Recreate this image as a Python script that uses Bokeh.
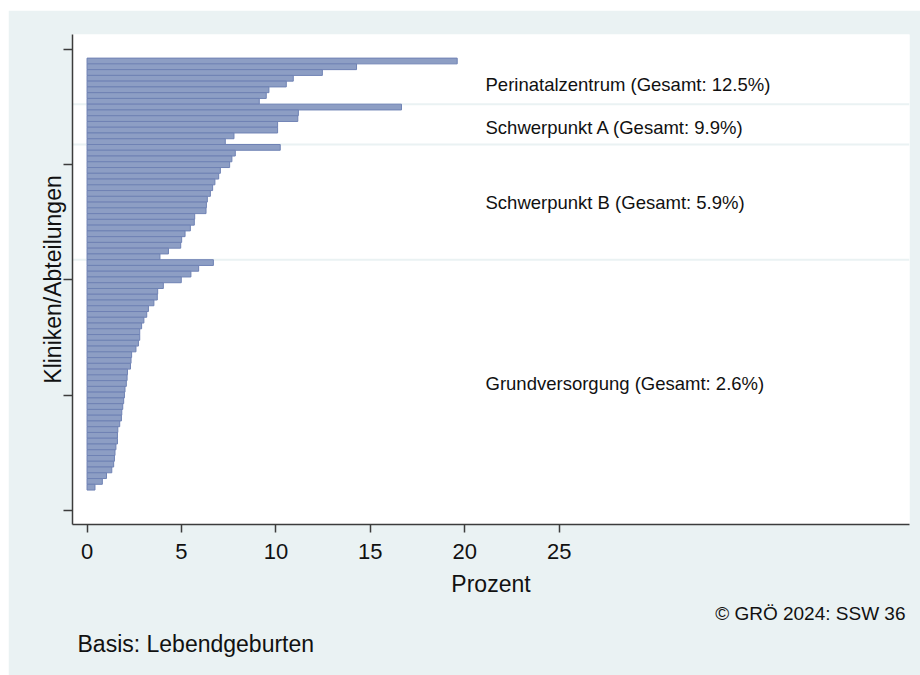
from bokeh.plotting import figure
from bokeh.models import Range1d, FixedTicker, Label, Span, ColumnDataSource, Title
from bokeh.embed import file_html
from bokeh.resources import INLINE

# ---- data ----
groups = ["Perinatalzentrum", "Schwerpunkt A", "Schwerpunkt B", "Grundversorgung"]
totals = [12.5, 9.9, 5.9, 2.6]

perinatal = [19.60, 14.27, 12.46, 10.92, 10.55, 9.63, 9.49, 9.12]
schwerpunkt_a = [16.65, 11.19, 11.16, 10.09, 10.09, 7.78, 7.32]
schwerpunkt_b = [10.23, 7.85, 7.67, 7.55, 7.06, 6.97, 6.77, 6.65, 6.53, 6.37,
                 6.32, 6.30, 5.70, 5.68, 5.47, 5.19, 5.01, 4.96, 4.31, 3.86]
grundversorgung = [6.69, 5.91, 5.50, 4.99, 4.04, 3.74, 3.72, 3.54, 3.25, 3.16,
                   3.01, 2.89, 2.79, 2.79, 2.72, 2.59, 2.36, 2.33, 2.30, 2.14,
                   2.12, 2.08, 2.01, 1.98, 1.94, 1.89, 1.84, 1.82, 1.73, 1.63,
                   1.61, 1.61, 1.53, 1.48, 1.45, 1.41, 1.31, 1.03, 0.81, 0.42]

x_ticks = [0, 5, 10, 15, 20, 25]
y_ticks = [0, 20, 40, 60, 80]

# ---- layout constants ----
FONT = "Liberation Sans"
BG = "#eaf2f3"
AX = "#3c3c3c"
TXT = "#111111"
BAR_FILL = "#8d9ec4"
BAR_LINE = "#6f82b4"
first_pos = 4          # position of lowest bar
label_x = 21.1
label_y = [74.0, 66.5, 53.5, 22.0]

series = [perinatal, schwerpunkt_a, schwerpunkt_b, grundversorgung]
all_vals = [v for s in series for v in s]
n = len(all_vals)
ypos = [first_pos + (n - 1 - i) for i in range(n)]
src = ColumnDataSource(dict(y=ypos, right=all_vals, left=[0] * n))

p = figure(width=912, height=665, output_backend="svg", toolbar_location=None,
           x_range=Range1d(-0.77, 43.55), y_range=Range1d(-2.48, 82.6),
           min_border_left=64, min_border_right=11, min_border_top=24,
           min_border_bottom=151)
p.margin = (10, 0, 0, 8)
p.background_fill_color = "white"
p.border_fill_color = BG
p.outline_line_color = None
p.grid.visible = False

# separators between groups
cum = 0
for s in series[:-1]:
    cum += len(s)
    loc = ypos[cum - 1] - 0.5
    p.add_layout(Span(location=loc, dimension="width", line_color=BG,
                      line_width=2, level="underlay"))

p.hbar(y="y", left="left", right="right", height=1.0, source=src,
       fill_color=BAR_FILL, line_color=BAR_LINE, line_width=1)

for g, t, ly in zip(groups, totals, label_y):
    p.add_layout(Label(x=label_x, y=ly, text=f"{g} (Gesamt: {t}%)",
                       text_font=FONT, text_font_size="18.5px",
                       text_baseline="middle", text_color=TXT))

# axes
xa = p.xaxis[0]
xa.ticker = FixedTicker(ticks=x_ticks)
xa.axis_label = "Prozent"
xa.axis_label_text_font = FONT
xa.axis_label_text_font_size = "23px"
xa.axis_label_text_font_style = "normal"
xa.axis_label_text_color = TXT
xa.axis_label_standoff = 9
xa.major_label_text_font = FONT
xa.major_label_text_font_size = "22px"
xa.major_label_text_color = TXT
xa.major_label_standoff = 11
xa.major_tick_out = 8
xa.major_tick_in = 0
xa.minor_tick_out = 0
xa.minor_tick_in = 0
xa.axis_line_color = AX
xa.axis_line_width = 1.5
xa.major_tick_line_color = AX
xa.major_tick_line_width = 1.5

ya = p.yaxis[0]
ya.ticker = FixedTicker(ticks=y_ticks)
ya.major_label_overrides = {t: "" for t in y_ticks}
ya.major_label_text_font_size = "1px"
ya.major_label_standoff = 0
ya.axis_label = "Kliniken/Abteilungen"
ya.axis_label_text_font = FONT
ya.axis_label_text_font_size = "23px"
ya.axis_label_text_font_style = "normal"
ya.axis_label_text_color = TXT
ya.axis_label_standoff = -2
ya.major_tick_out = 9
ya.major_tick_in = 0
ya.minor_tick_out = 0
ya.minor_tick_in = 0
ya.axis_line_color = AX
ya.axis_line_width = 1.5
ya.major_tick_line_color = AX
ya.major_tick_line_width = 1.5

# notes below the plot
p.add_layout(Title(text="© GRÖ 2024: SSW 36", align="right", offset=4,
                   standoff=2, text_font=FONT, text_font_size="19px",
                   text_font_style="normal", text_color=TXT), "below")
p.add_layout(Title(text="Basis: Lebendgeburten", align="left", offset=5,
                   standoff=8, text_font=FONT, text_font_size="23px",
                   text_font_style="normal", text_color=TXT), "below")

open("out.html", "w").write(file_html(p, INLINE))
